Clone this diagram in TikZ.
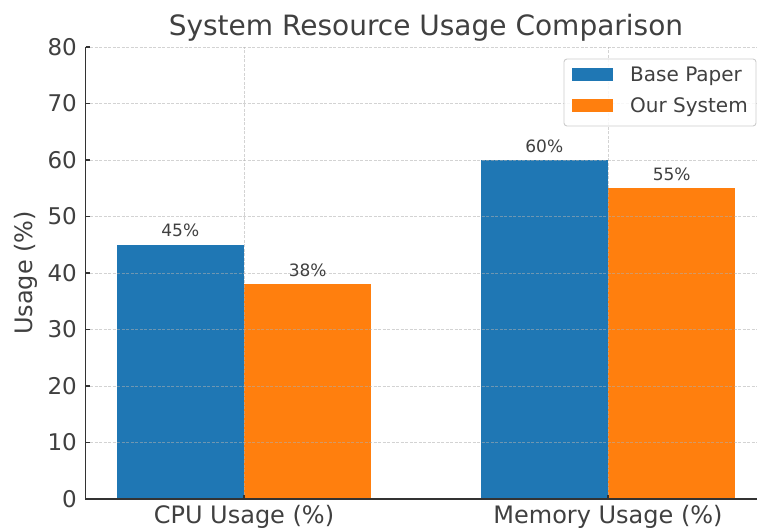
\documentclass[tikz,border=0pt]{standalone}
\usepackage{fontspec}
\setmainfont{DejaVu Sans}
\definecolor{basecol}{HTML}{1F77B4}
\definecolor{ourcol}{HTML}{FF7F0E}
\definecolor{inkcol}{HTML}{404040}
\definecolor{spinecol}{HTML}{333333}
\definecolor{gridcol}{HTML}{B0B0B0}
\definecolor{framecol}{HTML}{CCCCCC}
\tikzset{
  gridline/.style={draw=gridcol, line width=0.8pt, dash pattern=on 3pt off 1.5pt, opacity=0.55},
  spine/.style={draw=spinecol, line width=1.4pt},
  tickmark/.style={draw=spinecol, line width=1.1pt},
  basebar/.style={fill=basecol, draw=none},
  ourbar/.style={fill=ourcol, draw=none},
  ticklabel/.style={text=inkcol, font=\fontsize{23}{27}\selectfont, inner sep=0pt},
  axislabel/.style={text=inkcol, font=\fontsize{24}{28}\selectfont, inner sep=0pt},
  titletext/.style={text=inkcol, font=\fontsize{28}{33}\selectfont, inner sep=0pt},
  barlabel/.style={text=inkcol, font=\fontsize{17}{20}\selectfont, inner sep=0pt, anchor=base},
  legendtext/.style={text=inkcol, font=\fontsize{20}{24}\selectfont, inner sep=0pt, anchor=base west},
}
\begin{document}
\begin{tikzpicture}
\useasboundingbox (0,0) rectangle (757pt,531pt);
\fill[white] (0,0) rectangle (757pt,531pt);

% data coordinates: x = category position, y = usage in percent
\begin{scope}[shift={(244pt,32pt)}, x=364pt, y=5.65pt]
  \coordinate (ll) at (-0.435,0);
  \coordinate (lr) at (1.435,0);
  \coordinate (ul) at (-0.435,80);

  % bars
  \path[basebar] (-0.35,0) rectangle (0,45)    coordinate (cpubase);
  \path[ourbar]  (0,0)     rectangle (0.35,38) coordinate (cpuour);
  \path[basebar] (0.65,0)  rectangle (1,60)    coordinate (membase);
  \path[ourbar]  (1,0)     rectangle (1.35,55) coordinate (memour);

  % grid
  \foreach \v in {10,20,...,80}
    \draw[gridline] (-0.435,\v) -- (1.435,\v);
  \foreach \u in {0,1}
    \draw[gridline] (\u,0) -- (\u,80);

  % spines and ticks
  \draw[spine] (ul) -- (ll) -- (lr);
  \foreach \v in {0,10,...,80} {
    \draw[tickmark] (-0.435,\v) -- ++(4pt,0);
    \node[ticklabel, anchor=east] (yt\v) at (-0.4588,\v) {\v};
  }
  \draw[tickmark] (0,0) -- ++(0,4pt);
  \draw[tickmark] (1,0) -- ++(0,4pt);

  % bar value labels
  \node[barlabel] (lcpub) at (-0.175,46.4) {45\%};
  \node[barlabel] (lcpuo) at (0.175,39.4)  {38\%};
  \node[barlabel] (lmemb) at (0.825,61.4)  {60\%};
  \node[barlabel] (lmemo) at (1.175,56.4)  {55\%};

  % axis labels and title
  \node[axislabel, anchor=base] (xcpu) at (0,-4.25) {CPU Usage (\%)};
  \node[axislabel, anchor=base] (xmem) at (1,-4.25) {Memory Usage (\%)};
  \node[axislabel, rotate=90] (ylab) at (-0.599,40) {Usage (\%)};
  \node[titletext, anchor=base] (title) at (0.5,82.1) {System Resource Usage Comparison};
\end{scope}

% legend
\draw[framecol, line width=0.9pt, fill=white, fill opacity=0.85, rounded corners=3pt]
  (564pt,405pt) rectangle (756pt,472pt);
\path[basebar] (572pt,450pt) rectangle (613pt,463pt);
\path[ourbar]  (572pt,419pt) rectangle (613pt,432pt);
\node[legendtext] (legbase) at (630pt,449pt) {Base Paper};
\node[legendtext] (legour)  at (630pt,418pt) {Our System};
\end{tikzpicture}
\end{document}
